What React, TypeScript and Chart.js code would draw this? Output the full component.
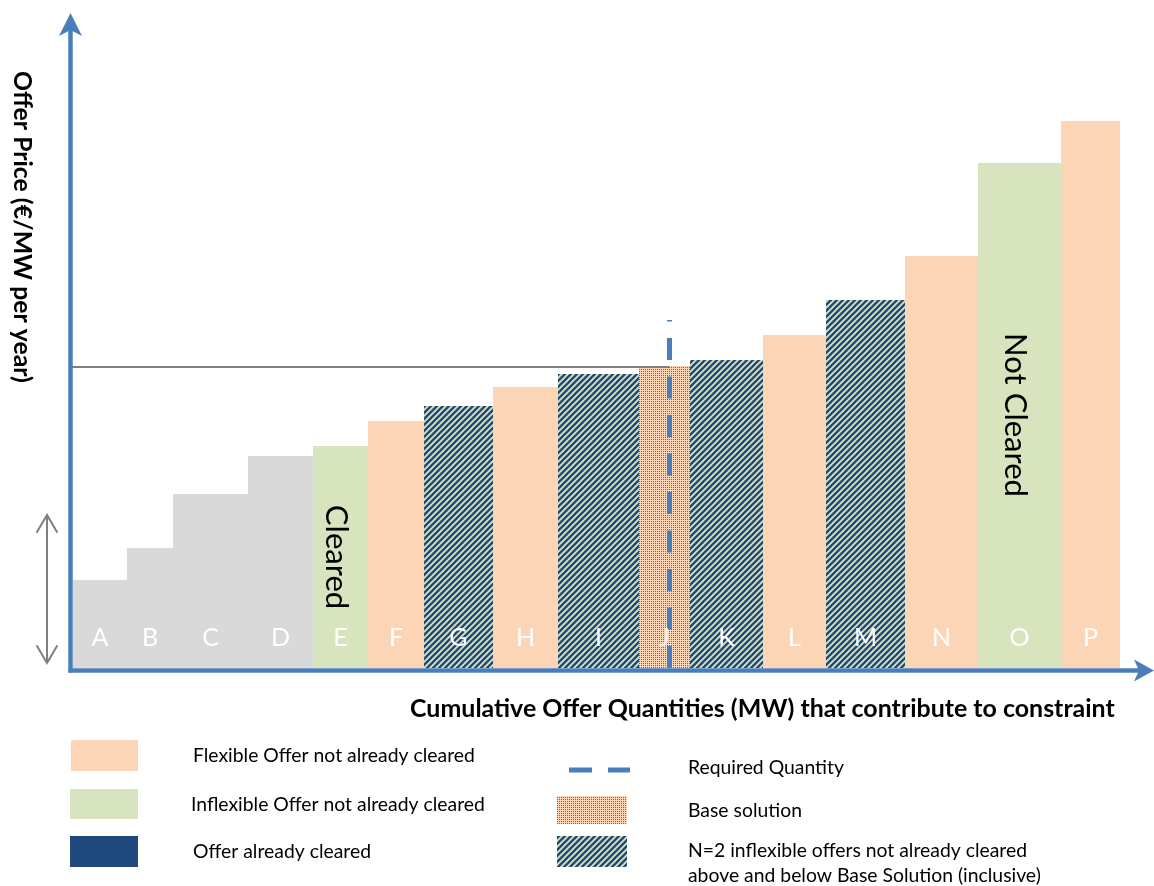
import React, { useEffect, useRef } from 'react';
import { Chart, registerables } from 'chart.js';

Chart.register(...registerables);

// ---- data ----
const offerNames = ['A', 'B', 'C', 'D', 'E', 'F', 'G', 'H', 'I', 'J', 'K', 'L', 'M', 'N', 'O', 'P'];
const offerQuantities = [54, 46, 75, 65, 55, 56, 69, 65, 81, 51, 73, 63, 79, 73, 83, 59];
const offerPrices = [88, 120, 174, 212, 222, 247, 262, 281, 294, 302, 308, 333, 368, 412, 505, 547];
const offerKinds = [
  'cleared', 'cleared', 'cleared', 'cleared', 'inflexible', 'flexible', 'neighbour', 'flexible',
  'neighbour', 'base', 'neighbour', 'flexible', 'neighbour', 'flexible', 'inflexible', 'flexible',
];
const requiredQuantity = 596.5;
const requiredLineTop = 348;
const clearingPrice = 301;
const quantityMax = 1047;
const priceMax = 653;

const xAxisTitle = 'Cumulative Offer Quantities (MW) that contribute to constraint';
const yAxisTitle = 'Offer Price (€/MW per year)';
const clearedNote = 'Cleared';
const notClearedNote = 'Not Cleared';
const legendLeftLabels = [
  'Flexible Offer not already cleared',
  'Inflexible Offer not already cleared',
  'Offer already cleared',
];
const legendRightLabels = [
  'Required Quantity',
  'Base solution',
  'N=2 inflexible offers not already cleared',
  'above and below Base Solution (inclusive)',
];

// ---- styles ----
const PEACH = '#FBD5B5';
const GREEN = '#D7E4BD';
const GRAY = '#D9D9D9';
const NAVY = '#1F497D';
const BLUE = '#4A7EBB';
const FONT = 'Lato, "Open Sans", sans-serif';

function makeHatch(): CanvasPattern | string {
  const c = document.createElement('canvas');
  c.width = 6;
  c.height = 6;
  const g = c.getContext('2d');
  if (!g) return NAVY;
  g.fillStyle = NAVY;
  g.fillRect(0, 0, 6, 6);
  g.strokeStyle = '#DCE6C0';
  g.lineWidth = 1.8;
  g.beginPath();
  g.moveTo(-1, 7);
  g.lineTo(7, -1);
  g.moveTo(-1, 1);
  g.lineTo(1, -1);
  g.moveTo(5, 7);
  g.lineTo(7, 5);
  g.stroke();
  return g.createPattern(c, 'repeat') || NAVY;
}

function makeDots(): CanvasPattern | string {
  const c = document.createElement('canvas');
  c.width = 2;
  c.height = 2;
  const g = c.getContext('2d');
  if (!g) return PEACH;
  g.fillStyle = PEACH;
  g.fillRect(0, 0, 2, 2);
  g.fillStyle = '#56698F';
  g.fillRect(1, 1, 1, 1);
  return g.createPattern(c, 'repeat') || PEACH;
}

function fitSize(ctx: CanvasRenderingContext2D, text: string, target: number, weight: string, base: number) {
  ctx.font = `${weight} ${base}px ${FONT}`;
  const w = ctx.measureText(text).width;
  return (base * target) / w;
}

export default function App() {
  const canvasRef = useRef<HTMLCanvasElement | null>(null);

  useEffect(() => {
    const canvas = canvasRef.current;
    if (!canvas) return;
    const hatch = makeHatch();
    const dots = makeDots();
    const fills: Record<string, any> = {
      cleared: GRAY,
      inflexible: GREEN,
      flexible: PEACH,
      neighbour: hatch,
      base: dots,
    };

    let cum = 0;
    const starts: number[] = [];
    const barSets = offerNames.map((name, i) => {
      const x0 = cum;
      const x1 = cum + offerQuantities[i];
      starts.push(x0);
      cum = x1;
      return {
        type: 'line' as const,
        label: name,
        data: [
          { x: x0, y: 0 },
          { x: x0, y: offerPrices[i] },
          { x: x1, y: offerPrices[i] },
          { x: x1, y: 0 },
        ],
        fill: 'origin',
        backgroundColor: fills[offerKinds[i]],
        borderColor: 'rgba(0,0,0,0)',
        borderWidth: 0,
        pointRadius: 0,
        pointHoverRadius: 0,
        tension: 0,
        order: 2,
      };
    });

    const clearingLine = {
      type: 'line' as const,
      label: 'clearing',
      data: [
        { x: -3, y: clearingPrice },
        { x: requiredQuantity, y: clearingPrice },
      ],
      borderColor: '#7F7F7F',
      borderWidth: 2,
      pointRadius: 0,
      fill: false,
      clip: false as any,
      order: 1,
    };

    const requiredLine = {
      type: 'line' as const,
      label: 'Required Quantity',
      data: [
        { x: requiredQuantity, y: 0 },
        { x: requiredQuantity, y: requiredLineTop },
      ],
      borderColor: BLUE,
      borderWidth: 5,
      borderDash: [22, 16.5],
      borderCapStyle: 'butt' as const,
      pointRadius: 0,
      fill: false,
      clip: false as any,
      order: 0,
    };

    const decor = {
      id: 'decor',
      afterDraw(chart: any) {
        const ctx: CanvasRenderingContext2D = chart.ctx;
        const xs = chart.scales.x;
        const ys = chart.scales.y;
        const x0 = xs.getPixelForValue(0);
        const yBase = ys.getPixelForValue(0);
        ctx.save();

        // letters
        ctx.fillStyle = '#FFFFFF';
        ctx.textAlign = 'center';
        ctx.textBaseline = 'alphabetic';
        ctx.font = `400 25px ${FONT}`;
        offerNames.forEach((n, i) => {
          const cx = xs.getPixelForValue(starts[i] + offerQuantities[i] / 2);
          ctx.fillText(n, cx, yBase - 22);
        });

        // rotated notes
        const noteSize = fitSize(ctx, notClearedNote, 164, '400', 30);
        ctx.fillStyle = '#000000';
        ctx.font = `400 ${noteSize}px ${FONT}`;
        const eIdx = offerKinds.indexOf('inflexible');
        const oIdx = offerKinds.lastIndexOf('inflexible');
        ctx.save();
        ctx.translate(xs.getPixelForValue(starts[eIdx]) + 13, yBase - 111);
        ctx.rotate(Math.PI / 2);
        ctx.textAlign = 'center';
        ctx.fillText(clearedNote, 0, 0);
        ctx.restore();
        ctx.save();
        ctx.translate(xs.getPixelForValue(starts[oIdx]) + 27, yBase - 253);
        ctx.rotate(Math.PI / 2);
        ctx.textAlign = 'center';
        ctx.fillText(notClearedNote, 0, 0);
        ctx.restore();

        // axes
        const axX = x0 - 2.5;
        const axY = yBase + 2.5;
        ctx.strokeStyle = BLUE;
        ctx.fillStyle = BLUE;
        ctx.lineWidth = 4.5;
        ctx.lineCap = 'butt';
        ctx.beginPath();
        ctx.moveTo(axX, axY + 2);
        ctx.lineTo(axX, 30);
        ctx.stroke();
        ctx.beginPath();
        ctx.moveTo(axX, 13);
        ctx.lineTo(axX + 11.5, 36);
        ctx.lineTo(axX, 30);
        ctx.lineTo(axX - 11.5, 36);
        ctx.closePath();
        ctx.fill();
        ctx.beginPath();
        ctx.moveTo(axX - 2, axY);
        ctx.lineTo(1140, axY);
        ctx.stroke();
        ctx.beginPath();
        ctx.moveTo(1154, axY);
        ctx.lineTo(1134, axY - 11);
        ctx.lineTo(1139, axY);
        ctx.lineTo(1134, axY + 11);
        ctx.closePath();
        ctx.fill();

        // double arrow on the left
        const dx = 47;
        const dTop = ys.getPixelForValue(153);
        const dBot = ys.getPixelForValue(5);
        ctx.strokeStyle = '#7F7F7F';
        ctx.lineWidth = 2;
        ctx.lineCap = 'round';
        ctx.beginPath();
        ctx.moveTo(dx, dTop);
        ctx.lineTo(dx, dBot);
        ctx.moveTo(dx - 10, dTop + 17);
        ctx.lineTo(dx, dTop);
        ctx.lineTo(dx + 10, dTop + 17);
        ctx.moveTo(dx - 10, dBot - 17);
        ctx.lineTo(dx, dBot);
        ctx.lineTo(dx + 10, dBot - 17);
        ctx.stroke();

        // axis titles
        ctx.fillStyle = '#000000';
        ctx.textAlign = 'left';
        const xtSize = fitSize(ctx, xAxisTitle, 705, '700', 22);
        ctx.font = `700 ${xtSize}px ${FONT}`;
        ctx.fillText(xAxisTitle, 410, 717);
        const ytSize = fitSize(ctx, yAxisTitle, 312, '700', 22);
        ctx.font = `700 ${ytSize}px ${FONT}`;
        ctx.save();
        ctx.translate(14, 227);
        ctx.rotate(Math.PI / 2);
        ctx.textAlign = 'center';
        ctx.fillText(yAxisTitle, 0, 0);
        ctx.restore();

        // legend
        const legSize = fitSize(ctx, legendLeftLabels[0], 282, '400', 20);
        ctx.font = `400 ${legSize}px ${FONT}`;
        ctx.fillStyle = PEACH;
        ctx.fillRect(71, 740, 67, 31);
        ctx.fillStyle = GREEN;
        ctx.fillRect(70, 789, 68, 30);
        ctx.fillStyle = NAVY;
        ctx.fillRect(70, 836, 68, 31);
        ctx.fillStyle = dots as any;
        ctx.fillRect(557, 796, 70, 28);
        ctx.fillStyle = hatch as any;
        ctx.fillRect(557, 836, 70, 31);
        ctx.fillStyle = BLUE;
        ctx.fillRect(569, 767.5, 23, 5);
        ctx.fillRect(608, 767.5, 22, 5);

        ctx.fillStyle = '#000000';
        ctx.textAlign = 'left';
        ctx.fillText(legendLeftLabels[0], 193, 762);
        ctx.fillText(legendLeftLabels[1], 191, 811);
        ctx.fillText(legendLeftLabels[2], 193, 858);
        ctx.fillText(legendRightLabels[0], 688, 774);
        ctx.fillText(legendRightLabels[1], 688, 817);
        ctx.fillText(legendRightLabels[2], 688, 857);
        ctx.fillText(legendRightLabels[3], 688, 882);

        ctx.restore();
      },
    };

    const chart = new Chart(canvas, {
      type: 'line',
      data: { datasets: [requiredLine, clearingLine, ...barSets] as any },
      options: {
        responsive: false,
        animation: false,
        events: [],
        layout: { padding: { left: 73, right: 34, top: 15, bottom: 218 } },
        scales: {
          x: { type: 'linear', display: false, min: 0, max: quantityMax },
          y: { type: 'linear', display: false, min: 0, max: priceMax },
        },
        plugins: {
          legend: { display: false },
          tooltip: { enabled: false },
        },
      },
      plugins: [decor],
    });
    return () => chart.destroy();
  }, []);

  return (
    <div style={{ position: 'absolute', left: 0, top: 0, width: 1154, height: 886, background: '#fff' }}>
      <canvas ref={canvasRef} width={1154} height={886} style={{ display: 'block', width: 1154, height: 886 }} />
    </div>
  );
}
